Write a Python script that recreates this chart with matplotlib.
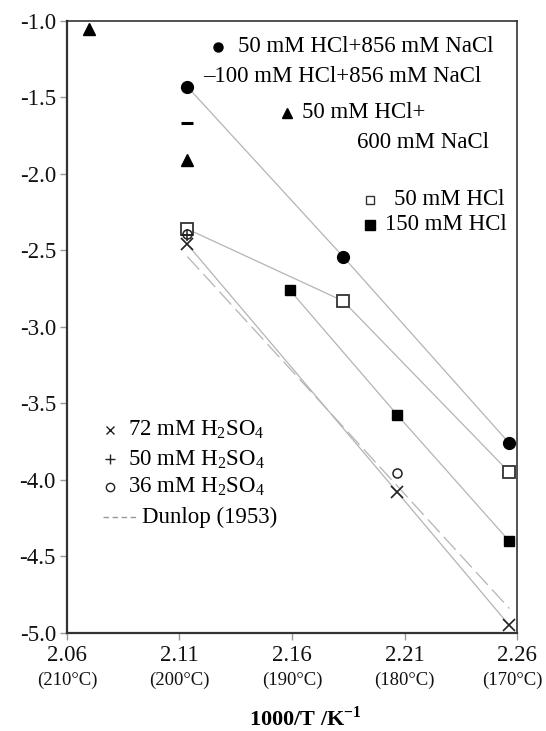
import numpy as np
import matplotlib
matplotlib.use("Agg")
import matplotlib.pyplot as plt
from matplotlib.ticker import FormatStrFormatter, FixedLocator

plt.rcParams['font.family'] = ['Liberation Serif', 'DejaVu Serif']
plt.rcParams['mathtext.fontset'] = 'custom'
plt.rcParams['mathtext.rm'] = 'Liberation Serif'
plt.rcParams['mathtext.bf'] = 'Liberation Serif:bold'

# 1000/T values
hcl50_nacl856_x = [2.1135, 2.1827, 2.2566]
hcl50_nacl856_y = [-1.43, -2.54, -3.76]
hcl100_nacl856_x = [2.1135]
hcl100_nacl856_y = [-1.67]
hcl50_nacl600_x = [2.0698, 2.1135]
hcl50_nacl600_y = [-1.05, -1.91]
hcl50_x = [2.1135, 2.1827, 2.2566]
hcl50_y = [-2.36, -2.83, -3.95]
hcl150_x = [2.1591, 2.2068, 2.2566]
hcl150_y = [-2.76, -3.575, -4.40]
h2so4_72_x = [2.1135, 2.2068, 2.2566]
h2so4_72_y = [-2.46, -4.08, -4.95]
h2so4_50_x = [2.1135]
h2so4_50_y = [-2.40]
h2so4_36_x = [2.1135, 2.2068]
h2so4_36_y = [-2.39, -3.955]
dunlop_x = [2.1135, 2.2566]
dunlop_y = [-2.54, -4.84]

xticks = [2.06, 2.11, 2.16, 2.21, 2.26]
temp_labels = ['(210°C)', '(200°C)', '(190°C)', '(180°C)', '(170°C)']
yticks = [-5.0, -4.5, -4.0, -3.5, -3.0, -2.5, -2.0, -1.5, -1.0]

fig = plt.figure(figsize=(5.46, 7.31), dpi=100)
ax = fig.add_axes([0.1227, 0.1341, 0.8242, 0.8372])

lc = '#b4b4b4'
lw = 0.9
# fitted / connecting lines
ax.plot(hcl50_nacl856_x, hcl50_nacl856_y, color=lc, lw=lw, zorder=1)
ax.plot(hcl50_x, hcl50_y, color=lc, lw=lw, zorder=1)
ax.plot(hcl150_x, hcl150_y, color=lc, lw=lw, zorder=1)
ax.plot(h2so4_72_x, h2so4_72_y, color=lc, lw=lw, zorder=1)
ax.plot(dunlop_x, dunlop_y, color=lc, lw=lw, dashes=(14, 5), zorder=1)

mk = dict(linestyle='none', clip_on=False, zorder=3)
ax.plot(hcl50_nacl856_x, hcl50_nacl856_y, marker='o', ms=8.5, color='black', **mk)
ax.plot(hcl100_nacl856_x, hcl100_nacl856_y, marker='_', ms=8, mew=2.2, color='black', **mk)
ax.plot(hcl50_nacl600_x, hcl50_nacl600_y, marker='^', ms=8, color='black', **mk)
ax.plot(hcl50_x, hcl50_y, marker='s', ms=8, mfc='white', mec='#333333', mew=1.3, **mk)
ax.plot(hcl150_x, hcl150_y, marker='s', ms=7.5, color='black', **mk)
ax.plot(h2so4_36_x, h2so4_36_y, marker='o', ms=6.5, mfc='none', mec='#222222', mew=1.1, **mk)
ax.plot(h2so4_50_x, h2so4_50_y, marker='+', ms=8, mec='#222222', mew=1.1, **mk)
ax.plot(h2so4_72_x, h2so4_72_y, marker='x', ms=8, mec='#222222', mew=1.2, **mk)

ax.set_xlim(2.06, 2.26)
ax.set_ylim(-5.0, -1.0)
ax.xaxis.set_major_locator(FixedLocator(xticks))
ax.yaxis.set_major_locator(FixedLocator(yticks))
ax.xaxis.set_major_formatter(FormatStrFormatter('%.2f'))
ax.yaxis.set_major_formatter(FormatStrFormatter('%.1f'))
ax.tick_params(axis='both', direction='out', length=5, width=1, color='#999999',
               labelsize=16.5, labelcolor='#111111')
ax.tick_params(axis='x', pad=4)
ax.tick_params(axis='y', pad=3)
for s in ['left', 'bottom']:
    ax.spines[s].set_linewidth(1.6)
    ax.spines[s].set_color('#333333')
for s in ['top', 'right']:
    ax.spines[s].set_linewidth(1.1)
    ax.spines[s].set_color('#222222')

# temperature labels under x ticks, the last one kept inside the figure
xax = ax.get_xaxis_transform()
for xv, lab in zip(xticks[:-1], temp_labels[:-1]):
    ax.text(xv, -0.078, lab, transform=xax, ha='center', va='center',
            fontsize=13.5, color='#111111')
ax.text(1.058, -0.078, temp_labels[-1], transform=ax.transAxes, ha='right',
        va='center', fontsize=13.5, color='#111111')

fig.text(0.56, 0.0, r'1000/T /K$^{\mathbf{-1}}$', ha='center', va='bottom',
         fontsize=16, fontweight='bold')

# legend drawn as annotations
T = ax.transAxes
fs = 16.5
lk = dict(transform=T, clip_on=False, linestyle='none')
ax.plot([0.3356], [0.9575], marker='o', ms=6.5, color='black', **lk)
ax.text(0.38, 0.9575, '50 mM HCl+856 mM NaCl', transform=T, va='center', fontsize=fs)
ax.text(0.302, 0.910, '\u2013100 mM HCl+856 mM NaCl', transform=T, va='center', fontsize=fs)
ax.plot([0.489], [0.8497], marker='^', ms=7, color='black', **lk)
ax.text(0.522, 0.8497, '50 mM HCl+', transform=T, va='center', fontsize=fs)
ax.text(0.644, 0.802, '600 mM NaCl', transform=T, va='center', fontsize=fs)
ax.plot([0.673], [0.7075], marker='s', ms=5.5, mfc='white', mec='#333333', mew=1, **lk)
ax.text(0.727, 0.7075, '50 mM HCl', transform=T, va='center', fontsize=fs)
ax.plot([0.673], [0.667], marker='s', ms=6.5, color='black', **lk)
ax.text(0.707, 0.667, '150 mM HCl', transform=T, va='center', fontsize=fs)

ax.plot([0.0956], [0.3317], marker='x', ms=6, mec='#222222', mew=1, **lk)
ax.text(0.1356, 0.3317, r'72 mM H$_2$SO$_4$', transform=T, va='center', fontsize=fs)
ax.plot([0.0956], [0.284], marker='+', ms=7, mec='#222222', mew=1, **lk)
ax.text(0.1356, 0.284, r'50 mM H$_2$SO$_4$', transform=T, va='center', fontsize=fs)
ax.plot([0.0956], [0.2386], marker='o', ms=6, mfc='none', mec='#222222', mew=1, **lk)
ax.text(0.1356, 0.2386, r'36 mM H$_2$SO$_4$', transform=T, va='center', fontsize=fs)
ax.plot([0.08, 0.156], [0.1895, 0.1895], color='#999999', lw=1, dashes=(4, 2.5),
        transform=T, clip_on=False)
ax.text(0.1667, 0.1895, 'Dunlop (1953)', transform=T, va='center', fontsize=fs)

fig.savefig('out.png', dpi=100)
